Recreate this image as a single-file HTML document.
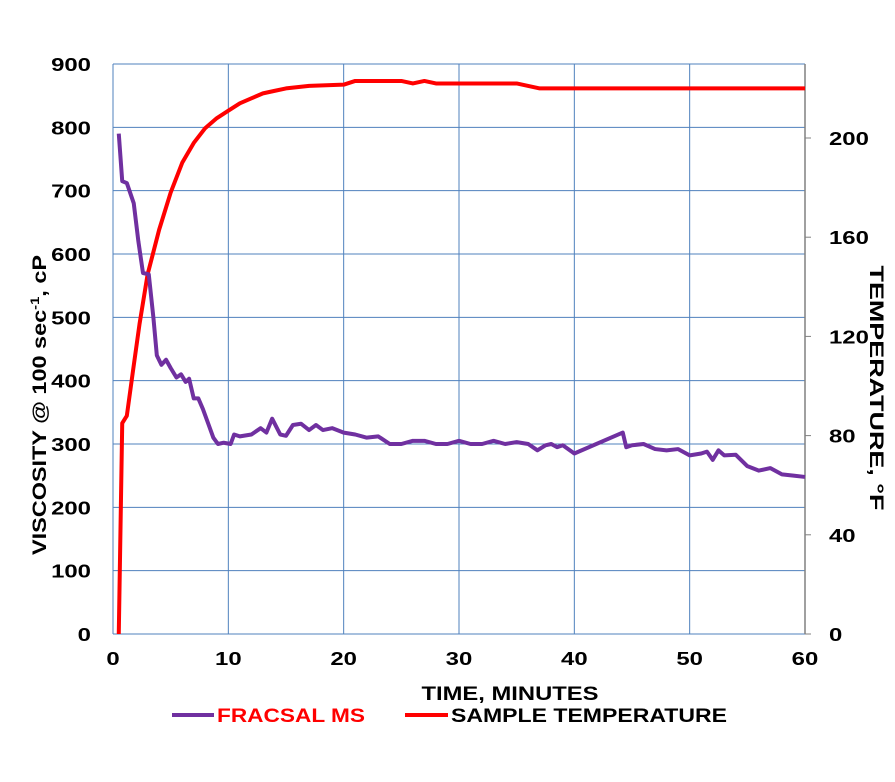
<!DOCTYPE html>
<html><head><meta charset="utf-8"><style>
body{margin:0;background:#fff;width:895px;height:777px;overflow:hidden;font-family:"Liberation Sans",Arial,sans-serif}
svg text{font-family:"Liberation Sans",Arial,sans-serif;font-weight:bold}
</style></head><body>
<svg id="chart" width="895" height="777">
<g id="grid"></g>
<g id="axes"></g>
<g id="series"></g>
<text x="405" y="46" font-size="19" text-anchor="middle" textLength="300" lengthAdjust="spacingAndGlyphs" transform="rotate(-90 0 0) translate(-810 0)">VISCOSITY @ 100 sec<tspan font-size="12" dy="-7">-1</tspan><tspan dy="7">, cP</tspan></text>
<text x="388" y="-870" font-size="19" text-anchor="middle" textLength="245" lengthAdjust="spacingAndGlyphs" transform="rotate(90)">TEMPERATURE, °F</text>
<text x="510" y="700" font-size="19" text-anchor="middle" textLength="177" lengthAdjust="spacingAndGlyphs">TIME, MINUTES</text>
<g>
<line x1="172" y1="715" x2="214" y2="715" stroke="#7030a0" stroke-width="4"/>
<text x="217" y="722" font-size="19" fill="#ff0000" textLength="148" lengthAdjust="spacingAndGlyphs">FRACSAL MS</text>
<line x1="405" y1="715" x2="448" y2="715" stroke="#ff0000" stroke-width="4"/>
<text x="451" y="722" font-size="19" fill="#000" textLength="276" lengthAdjust="spacingAndGlyphs">SAMPLE TEMPERATURE</text>
</g>
</svg>
<script>
const xTicks=[0,10,20,30,40,50,60];
const yTicksLeft=[0,100,200,300,400,500,600,700,800,900];
const yTicksRight=[0,40,80,120,160,200];
const viscTime=[0.5,0.8,1.2,1.8,2.2,2.6,3.1,3.5,3.8,4.2,4.6,5,5.5,5.9,6.3,6.6,7,7.4,7.8,8.3,8.7,9.1,9.6,10.2,10.5,11,12,12.8,13.3,13.8,14.5,15,15.6,16.3,17,17.6,18.2,19,20,21,22,23,24,25,26,27,28,29,30,31,32,33,34,35,36,36.8,37.5,38,38.5,39,40,44.2,44.5,45,46,47,48,49,50,51,51.5,52,52.5,53,54,55,56,57,58,59,60];
const viscValues=[790,715,712,680,620,570,568,500,440,425,433,420,405,410,398,403,372,372,355,330,310,300,302,300,315,312,315,325,318,340,315,313,330,332,322,330,322,325,318,315,310,312,300,300,305,305,300,300,305,300,300,305,300,303,300,290,298,300,295,298,285,318,295,298,300,292,290,292,282,285,288,275,290,282,283,265,258,262,252,250,248];
const tempTime=[0.5,0.8,1.2,1.7,2.3,3,4,5,6,7,8,9,10,11,12,13,14,15,17,20,21,25,26,27,28,35,37,60];
const tempValues=[0,85,88,105,125,145,163,178,190,198,204,208,211,214,216,218,219,220,221,221.5,223,223,222,223,222,222,220,220];
const L=113,R=805,T=64,B=634;
const xS=t=>L+t*(R-L)/60;
const yL=v=>B-v*(B-T)/900;
const yR=v=>B-v*2.48;
const NS="http://www.w3.org/2000/svg";
function mk(tag,attrs,parent,txt){const e=document.createElementNS(NS,tag);for(const k in attrs)e.setAttribute(k,attrs[k]);if(txt!==undefined)e.textContent=txt;parent.appendChild(e);return e;}
const grid=document.getElementById('grid'),axes=document.getElementById('axes'),ser=document.getElementById('series');
yTicksLeft.forEach(v=>{const y=yL(v);const s=String(v);
const g=mk('line',{x1:L,x2:R,y1:y,y2:y,stroke:'#4f81bd','stroke-width':1},grid);


const t=mk('text',{x:91,y:y+7,'font-size':18,'text-anchor':'end',textLength:13.3*s.length,lengthAdjust:'spacingAndGlyphs'},axes,s);

});
xTicks.forEach(v=>{const x=xS(v);const s=String(v);
const g=mk('line',{x1:x,x2:x,y1:T,y2:B,stroke:'#4f81bd','stroke-width':1},grid);


const t=mk('text',{x:x,y:B+31,'font-size':18,'text-anchor':'middle',textLength:13.3*s.length,lengthAdjust:'spacingAndGlyphs'},axes,s);

});
mk('line',{x1:R,x2:R,y1:T,y2:B,stroke:'#808080','stroke-width':1.5},axes);
yTicksRight.forEach(v=>{const y=yR(v);const s=String(v);
mk('line',{x1:R,x2:R+6,y1:y,y2:y,stroke:'#808080'},axes);
const t=mk('text',{x:829,y:y+7,'font-size':18,textLength:13.3*s.length,lengthAdjust:'spacingAndGlyphs'},axes,s);

});
const tp=mk('polyline',{points:tempTime.map((t,i)=>xS(t)+','+yR(tempValues[i])).join(' '),fill:'none',stroke:'#ff0000','stroke-width':4,'stroke-linejoin':'round'},ser);


const vp=mk('polyline',{points:viscTime.map((t,i)=>xS(t)+','+yL(viscValues[i])).join(' '),fill:'none',stroke:'#7030a0','stroke-width':4,'stroke-linejoin':'round'},ser);


</script>
</body></html>
